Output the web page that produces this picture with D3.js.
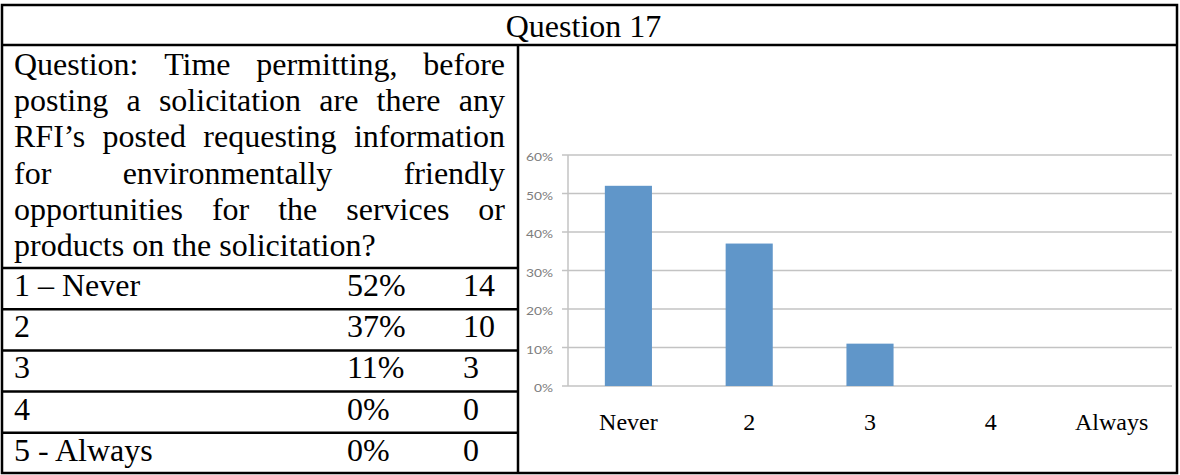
<!DOCTYPE html>
<html>
<head>
<meta charset="utf-8">
<script src="https://cdn.jsdelivr.net/npm/d3@7"></script>
<style>
  body { margin: 0; background: #fff; }
  svg { display: block; }
  .serif { font-family: 'Liberation Serif', 'Times New Roman', serif; fill: #000; }
  .tick-label { font-family: Lato, 'Open Sans', sans-serif; font-size: 12px; fill: #7d7d7d; }
</style>
</head>
<body>
<div id="chart"></div>
<script>
// data

const title = 'Question 17'
const questionLines = [
  'Question: Time permitting, before',
  'posting a solicitation are there any',
  'RFI\u2019s posted requesting information',
  'for environmentally friendly',
  'opportunities for the services or',
  'products on the solicitation?'
]
const answers = ['1 \u2013 Never', '2', '3', '4', '5 - Always']
const percents = ['52%', '37%', '11%', '0%', '0%']
const counts = ['14', '10', '3', '0', '0']

const categories = ['Never', '2', '3', '4', 'Always']
const values = [0.52, 0.37, 0.11, 0, 0]
const yTicks = [0, 0.1, 0.2, 0.3, 0.4, 0.5, 0.6]

// layout

const W = 1180, H = 475
const BOX = { left: 2, right: 1177, top: 5, bottom: 473 }
const TITLE_BOTTOM = 45
const DIVIDER = 518
const TEXT_LEFT = 14, TEXT_RIGHT = 505
const ROWS_TOP = 268, ROW_H = 41.2
const PLOT = { left: 568, right: 1172, top: 155, bottom: 386 }

const svg = d3.select('#chart').append('svg')
  .attr('width', W)
  .attr('height', H)

// title
svg.append('text')
  .attr('class', 'serif')
  .attr('x', (BOX.left + BOX.right) / 2 - 6)
  .attr('y', 37)
  .attr('text-anchor', 'middle')
  .style('font-size', '32px')
  .text(title)

// question paragraph, justified like the original cell
const lineH = (ROWS_TOP - TITLE_BOTTOM - 6) / questionLines.length
questionLines.forEach((line, i) => {
  let g = svg.append('g').attr('class', 'serif').style('font-size', '32px')
  let baseline = TITLE_BOTTOM + 30 + i * lineH
  let words = line.split(' ')
  let nodes = words.map((w) => g.append('text').attr('y', baseline).text(w))
  let widths = nodes.map((n) => n.node().getComputedTextLength())
  let last = i === questionLines.length - 1
  let gap = last ? 8 : (TEXT_RIGHT - TEXT_LEFT - d3.sum(widths)) / (words.length - 1)
  let x = TEXT_LEFT
  nodes.forEach((n, j) => { n.attr('x', x); x += widths[j] + gap })
})

// answer rows
const rows = svg.append('g').attr('class', 'serif').style('font-size', '32px')
answers.forEach((a, i) => {
  let base = ROWS_TOP + i * ROW_H + 28
  rows.append('text').attr('x', TEXT_LEFT).attr('y', base).text(a)
  rows.append('text').attr('x', 347).attr('y', base).text(percents[i])
  rows.append('text').attr('x', 463).attr('y', base).text(counts[i])
})

// table rules
const rules = svg.append('g').attr('stroke', '#000').attr('stroke-width', 2.5).attr('fill', 'none')
rules.append('rect')
  .attr('x', BOX.left).attr('y', BOX.top)
  .attr('width', BOX.right - BOX.left).attr('height', BOX.bottom - BOX.top)
rules.append('line')
  .attr('x1', BOX.left).attr('x2', BOX.right)
  .attr('y1', TITLE_BOTTOM).attr('y2', TITLE_BOTTOM)
rules.append('line')
  .attr('x1', DIVIDER).attr('x2', DIVIDER)
  .attr('y1', TITLE_BOTTOM).attr('y2', BOX.bottom)
d3.range(answers.length).forEach((i) => {
  let y = ROWS_TOP + i * ROW_H
  rules.append('line')
    .attr('x1', BOX.left).attr('x2', DIVIDER)
    .attr('y1', y).attr('y2', y)
})

// bar chart

const x = d3.scaleBand()
  .domain(categories)
  .range([PLOT.left, PLOT.right])
  .padding(0)

const y = d3.scaleLinear()
  .domain([0, 0.6])
  .range([PLOT.bottom, PLOT.top])

const pct = d3.format('.0%')
const barW = x.bandwidth() * 0.39

const chart = svg.append('g')

// gridlines + ticks
chart.append('g')
  .selectAll('line')
  .data(yTicks)
  .join('line')
    .attr('x1', PLOT.left - 6)
    .attr('x2', PLOT.right)
    .attr('y1', (d) => y(d))
    .attr('y2', (d) => y(d))
    .attr('stroke', '#c3c3c3')
    .attr('stroke-width', 1.5)

chart.append('line')
  .attr('x1', PLOT.left).attr('x2', PLOT.left)
  .attr('y1', y(0.6)).attr('y2', y(0))
  .attr('stroke', '#c3c3c3')
  .attr('stroke-width', 1.5)

// the pasted excel picture is a little stretched sideways
chart.append('g')
  .selectAll('text')
  .data(yTicks)
  .join('text')
    .attr('class', 'tick-label')
    .attr('transform', (d) => 'translate(' + (PLOT.left - 15) + ',' + (y(d) + 6) + ') scale(1.15,1)')
    .attr('text-anchor', 'end')
    .text((d) => pct(d))

// bars
chart.append('g')
  .selectAll('rect')
  .data(values)
  .join('rect')
    .attr('x', (d, i) => x(categories[i]) + (x.bandwidth() - barW) / 2)
    .attr('y', (d) => y(d))
    .attr('width', barW)
    .attr('height', (d) => y(0) - y(d))
    .attr('fill', '#6096c9')

// category labels
chart.append('g')
  .selectAll('text')
  .data(categories)
  .join('text')
    .attr('class', 'serif')
    .style('font-size', '24px')
    .attr('x', (d) => x(d) + x.bandwidth() / 2)
    .attr('y', 430)
    .attr('text-anchor', 'middle')
    .text((d) => d)
</script>
</body>
</html>
